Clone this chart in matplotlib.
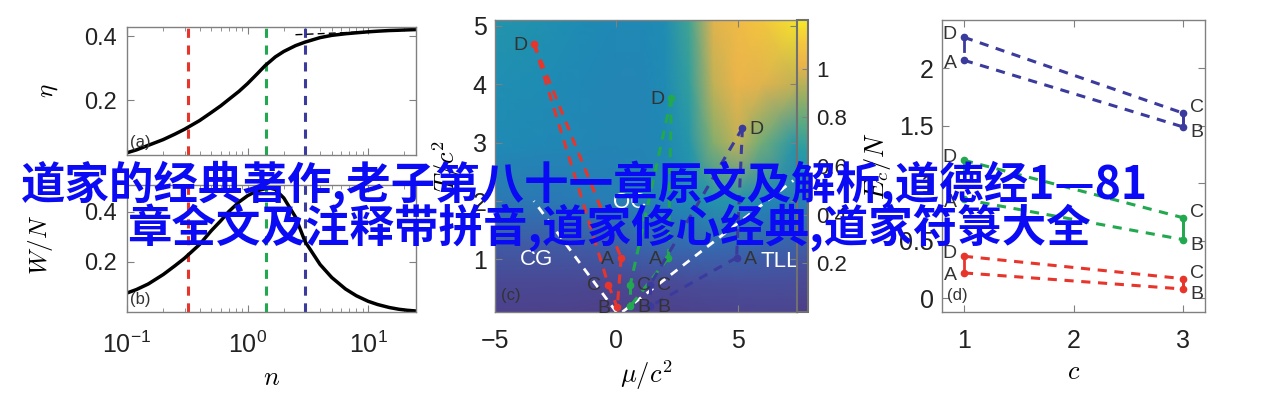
import numpy as np
import matplotlib.pyplot as plt
from matplotlib.colors import LinearSegmentedColormap

# ---- data ----
# panels (a), (b): efficiency and work vs n
n_vals = [0.1, 0.12, 0.15, 0.2, 0.25, 0.3, 0.4, 0.5, 0.6, 0.7, 0.85, 1.0, 1.2, 1.4,
          1.55, 1.7, 2.0, 2.5, 3.0, 4.0, 5.0, 6.5, 8.0, 10, 12, 15, 18, 21, 25]
eta_vals = [0.037, 0.046, 0.060, 0.078, 0.095, 0.110, 0.137, 0.162, 0.183, 0.203, 0.228,
            0.252, 0.282, 0.308, 0.322, 0.335, 0.352, 0.370, 0.381, 0.395, 0.402, 0.407,
            0.410, 0.413, 0.415, 0.417, 0.418, 0.419, 0.420]
w_vals = [0.076, 0.090, 0.112, 0.150, 0.185, 0.215, 0.270, 0.325, 0.365, 0.402, 0.440,
          0.465, 0.485, 0.493, 0.495, 0.490, 0.456, 0.380, 0.282, 0.190, 0.138, 0.092,
          0.065, 0.043, 0.030, 0.018, 0.011, 0.007, 0.004]
n_marks = [0.32, 1.41, 3.0]
eta_asym_n = [2.5, 25]
eta_asym = [0.404, 0.420]

# panel (c): background map, coarse grid
mu_grid = [-5, -3, -1.5, 0, 1, 2, 3, 4, 5, 6, 7.45]
c2_grid = [0.1, 0.6, 1.2, 2.0, 3.0, 4.0, 5.1]
z_grid = [
    [0.04, 0.04, 0.03, 0.02, 0.03, 0.04, 0.05, 0.06, 0.07, 0.07, 0.07],
    [0.12, 0.12, 0.12, 0.10, 0.12, 0.14, 0.16, 0.17, 0.18, 0.18, 0.18],
    [0.24, 0.24, 0.25, 0.27, 0.30, 0.32, 0.33, 0.33, 0.32, 0.30, 0.28],
    [0.42, 0.42, 0.44, 0.46, 0.48, 0.50, 0.54, 0.60, 0.60, 0.52, 0.46],
    [0.53, 0.52, 0.51, 0.50, 0.50, 0.52, 0.62, 0.85, 0.95, 0.82, 0.62],
    [0.56, 0.54, 0.52, 0.50, 0.50, 0.53, 0.68, 0.95, 1.02, 1.00, 0.95],
    [0.60, 0.57, 0.54, 0.52, 0.52, 0.55, 0.72, 1.00, 1.05, 1.10, 1.18],
]
# cycle points (mu/c^2, T/c^2) for three runs
pts_red = {'A': (0.20, 1.03), 'B': (0.04, 0.18), 'C': (-0.33, 0.57), 'D': (-3.39, 4.69)}
pts_green = {'A': (2.15, 1.03), 'B': (0.58, 0.20), 'C': (0.58, 0.57), 'D': (2.27, 3.77)}
pts_blue = {'A': (4.96, 1.03), 'B': (1.40, 0.20), 'C': (1.40, 0.57), 'D': (5.20, 3.25)}
bound_left_mu, bound_left_c2 = [0.0, -3.4], [0.1, 2.0]
bound_right_mu, bound_right_c2 = [0.25, 7.3], [0.1, 2.35]

# panel (d)
c_vals = [1, 3]
red_DC, red_AB = [0.365, 0.17], [0.22, 0.08]
green_DC, green_AB = [1.20, 0.70], [0.86, 0.51]
blue_DC, blue_AB = [2.27, 1.61], [2.07, 1.49]

line1 = '道家的经典著作,老子第八十一章原文及解析,道德经1—81'
line2 = '章全文及注释带拼音,道家修心经典,道家符箓大全'

# ---- style ----
plt.rcParams['font.family'] = ['Liberation Sans', 'DejaVu Sans']
plt.rcParams['mathtext.fontset'] = 'cm'
plt.rcParams['axes.edgecolor'] = '#808080'
plt.rcParams['axes.linewidth'] = 1.0
plt.rcParams['xtick.direction'] = 'in'
plt.rcParams['ytick.direction'] = 'in'
plt.rcParams['xtick.top'] = True
plt.rcParams['ytick.right'] = True
plt.rcParams['xtick.color'] = '#808080'
plt.rcParams['ytick.color'] = '#808080'
plt.rcParams['xtick.labelcolor'] = '#222222'
plt.rcParams['ytick.labelcolor'] = '#222222'

RED = '#e8352b'
GREEN = '#22a84e'
BLUE = '#3b3b9e'
TXT = '#333333'

# muted parula-like map, matched to the printed colour bar
parula = LinearSegmentedColormap.from_list('parula_muted', [
    (0.00, '#4e3e87'), (0.15, '#484e9b'), (0.30, '#326eb4'), (0.45, '#1e8cb4'),
    (0.55, '#289ba5'), (0.65, '#5aaa82'), (0.75, '#a0af5f'), (0.85, '#ebb44b'),
    (0.93, '#f5c83c'), (1.00, '#f5eb28')])

W, H = 1269, 401
fig = plt.figure(figsize=(W / 100, H / 100), dpi=100)


def box(l, t, r, b):
    return [l / W, 1 - b / H, (r - l) / W, (b - t) / H]


ax_a = fig.add_axes(box(127, 27, 416, 155))
ax_b = fig.add_axes(box(127, 185, 416, 312))
ax_c = fig.add_axes(box(495, 20, 797, 312))
cax = fig.add_axes(box(797, 20, 808, 312))
ax_d = fig.add_axes(box(942, 20, 1205, 312))

# ---- (a), (b) shared bits ----
for ax in (ax_a, ax_b):
    ax.set_xscale('log')
    ax.set_xlim(0.1, 25)
    for xm, col in zip(n_marks, [RED, GREEN, BLUE]):
        ax.axvline(xm, color=col, lw=2.2, ls=(0, (3, 2.5)))
    ax.tick_params(which='major', length=5, labelsize=17, pad=7)
    ax.tick_params(which='minor', length=3)

ax_a.plot(n_vals, eta_vals, color='black', lw=2.5)
ax_a.plot(eta_asym_n, eta_asym, color='black', lw=1, ls=(0, (5, 3)))
ax_a.set_ylim(0.03, 0.428)
ax_a.set_yticks([0.2, 0.4])
ax_a.set_yticklabels(['0.2', '0.4'])
ax_a.tick_params(labelbottom=False)
ax_a.set_ylabel(r'$\eta$', fontsize=18)
ax_a.yaxis.set_label_coords(-0.232, 0.5)
ax_a.text(0.01, 0.06, '(a)', transform=ax_a.transAxes, fontsize=12, color=TXT)

ax_b.plot(n_vals, w_vals, color='black', lw=2.5)
ax_b.set_ylim(0.0, 0.508)
ax_b.set_yticks([0.2, 0.4])
ax_b.set_yticklabels(['0.2', '0.4'])
ax_b.tick_params(axis='x', which='major', pad=14, labelsize=18)
ax_b.set_ylabel(r'$W/N$', fontsize=18)
ax_b.yaxis.set_label_coords(-0.25, 0.53)
ax_b.set_xlabel(r'$n$', fontsize=19)
ax_b.xaxis.set_label_coords(0.5, -0.52)
ax_b.xaxis.label.set_verticalalignment('center')
ax_b.text(0.01, 0.06, '(b)', transform=ax_b.transAxes, fontsize=12, color=TXT)

# ---- (c) ----
mesh = ax_c.pcolormesh(mu_grid, c2_grid, np.array(z_grid), cmap=parula,
                       vmin=0, vmax=1.2, shading='gouraud', rasterized=True)
ax_c.plot(bound_left_mu, bound_left_c2, color='white', lw=2, ls=(0, (3, 2.5)))
ax_c.plot(bound_right_mu, bound_right_c2, color='white', lw=2, ls=(0, (3, 2.5)))

label_side = {
    RED: {'A': 'l', 'B': 'l', 'C': 'l', 'D': 'l'},
    GREEN: {'A': 'l', 'B': 'r', 'C': 'r', 'D': 'l'},
    BLUE: {'A': 'r', 'B': 'r', 'C': 'r', 'D': 'r'},
}
for pts, col in [(pts_red, RED), (pts_green, GREEN), (pts_blue, BLUE)]:
    for p, q in [('D', 'A'), ('D', 'C'), ('A', 'B'), ('C', 'B')]:
        ax_c.plot([pts[p][0], pts[q][0]], [pts[p][1], pts[q][1]], color=col,
                  lw=2.2, ls=(0, (3, 2.5)))
    for k, (x, y) in pts.items():
        ax_c.plot(x, y, 'o', color=col, ms=4.5)
        if label_side[col][k] == 'l':
            ax_c.annotate(k, (x, y), xytext=(-5, -1), textcoords='offset points',
                          ha='right', va='center', fontsize=14, color=TXT)
        else:
            ax_c.annotate(k, (x, y), xytext=(5, -1), textcoords='offset points',
                          ha='left', va='center', fontsize=14, color=TXT)

ax_c.text(-3.3, 1.0, 'CG', color='white', fontsize=16, ha='center', va='center')
ax_c.text(0.55, 1.98, 'QC', color='white', fontsize=16, ha='center', va='center')
ax_c.text(6.75, 0.96, 'TLL', color='white', fontsize=16, ha='center', va='center')
ax_c.text(0.02, 0.04, '(c)', transform=ax_c.transAxes, fontsize=12, color=TXT)
ax_c.set_xlim(-5, 7.45)
ax_c.set_ylim(0.1, 5.1)
ax_c.set_xticks([-5, 0, 5])
ax_c.set_yticks([1, 2, 3, 4, 5])
ax_c.tick_params(axis='x', labelsize=18, pad=12, length=5)
ax_c.tick_params(axis='y', labelsize=18, pad=6, length=5)
ax_c.set_xlabel(r'$\mu/c^2$', fontsize=19)
ax_c.xaxis.set_label_coords(0.5, -0.215)
ax_c.xaxis.label.set_verticalalignment('center')
ax_c.set_ylabel(r'$T/c^2$', fontsize=19)
ax_c.yaxis.set_label_coords(-0.159, 0.5)
ax_c.yaxis.label.set_verticalalignment('center')

cb = fig.colorbar(mesh, cax=cax, ticks=[0.2, 0.4, 0.6, 0.8, 1])
cb.ax.set_yticklabels(['0.2', '0.4', '0.6', '0.8', '1'])
cb.ax.tick_params(labelsize=16, length=4, pad=6, direction='in')
cb.outline.set_edgecolor('#707070')
cb.outline.set_linewidth(1.5)

# ---- (d) ----
for dc, ab, col in [(red_DC, red_AB, RED), (green_DC, green_AB, GREEN),
                    (blue_DC, blue_AB, BLUE)]:
    ax_d.plot(c_vals, dc, color=col, lw=2.2, ls=(0, (3, 2.5)))
    ax_d.plot(c_vals, ab, color=col, lw=2.2, ls=(0, (3, 2.5)))
    ax_d.plot(c_vals, dc, 'o', color=col, ms=4.5, ls='none')
    ax_d.plot(c_vals, ab, 'o', color=col, ms=4.5, ls='none')
    # short solid strokes between the end points
    ax_d.plot([c_vals[0], c_vals[0]], [dc[0], max(dc[0] - 0.12, ab[0])], color=col, lw=2)
    ax_d.plot([c_vals[1], c_vals[1]], [dc[1], max(dc[1] - 0.15, ab[1])], color=col, lw=2)
    ax_d.plot([c_vals[1], c_vals[1]], [ab[1], min(ab[1] + 0.15, dc[1])], color=col, lw=2)
    ax_d.annotate('D', (c_vals[0], dc[0]), xytext=(-5, 2), textcoords='offset points',
                  ha='right', va='center', fontsize=14, color=TXT)
    ax_d.annotate('A', (c_vals[0], ab[0]), xytext=(-5, -2), textcoords='offset points',
                  ha='right', va='center', fontsize=14, color=TXT)
    ax_d.annotate('C', (c_vals[1], dc[1]), xytext=(5, 4), textcoords='offset points',
                  ha='left', va='center', fontsize=14, color=TXT)
    ax_d.annotate('B', (c_vals[1], ab[1]), xytext=(5, -4), textcoords='offset points',
                  ha='left', va='center', fontsize=14, color=TXT)

ax_d.text(0.02, 0.04, '(d)', transform=ax_d.transAxes, fontsize=12, color=TXT)
ax_d.set_xlim(0.8, 3.2)
ax_d.set_ylim(-0.12, 2.42)
ax_d.set_xticks([1, 2, 3])
ax_d.set_yticks([0, 0.5, 1, 1.5, 2])
ax_d.set_yticklabels(['0', '0.5', '1', '1.5', '2'])
ax_d.tick_params(axis='x', labelsize=18, pad=12, length=5)
ax_d.tick_params(axis='y', labelsize=18, pad=6, length=5)
ax_d.set_xlabel(r'$c$', fontsize=19)
ax_d.xaxis.set_label_coords(0.5, -0.205)
ax_d.xaxis.label.set_verticalalignment('center')
ax_d.set_ylabel(r'$E_c/N$', fontsize=19)
ax_d.yaxis.set_label_coords(-0.247, 0.5)
ax_d.yaxis.label.set_verticalalignment('center')

# ---- overlaid caption ----
fig.text(584 / W, 1 - 185 / H, line1, family=['Noto Sans CJK SC', 'DejaVu Sans'],
         fontsize=32, fontweight='bold', color='#0a0af5', ha='center', va='center')
fig.text(609 / W, 1 - 228 / H, line2, family=['Noto Sans CJK SC', 'DejaVu Sans'],
         fontsize=32, fontweight='bold', color='#0a0af5', ha='center', va='center')

fig.savefig('out.png', dpi=100, facecolor='white')
